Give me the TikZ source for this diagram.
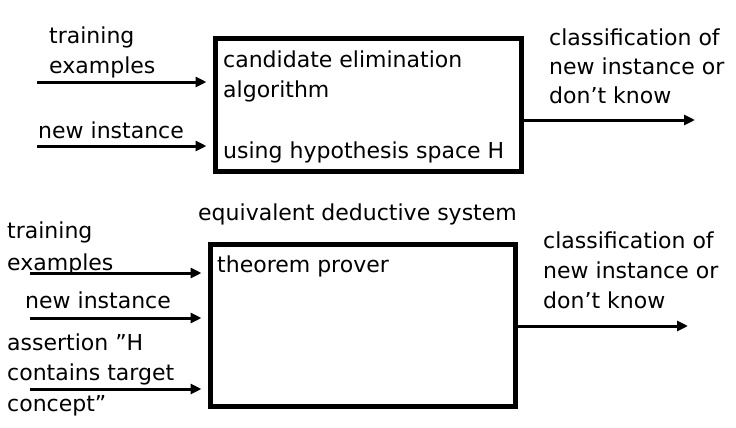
\documentclass[tikz,border=0pt]{standalone}
\usepackage{fontspec}
\setmainfont{DejaVu Sans}
\usetikzlibrary{positioning, arrows.meta}

\begin{document}
\begin{tikzpicture}[x=1pt, y=-1pt,
	box/.style={draw, line width=5pt, inner sep=0pt},
	lbl/.style={anchor=base west, inner sep=0pt, align=left, font=\fontsize{22}{#1}\selectfont},
	lbl/.default=30,
	arr/.style={line width=3pt, -{Triangle[length=11pt, width=10pt]}}]
	\useasboundingbox (0,0) rectangle (736,428);
	% candidate elimination
	\node[box, minimum width=306pt, minimum height=132pt] (cea) at (368,105) {};
	\node[lbl] (ceatxt) at (223,97) {candidate elimination\\algorithm};
	\node[lbl] (hyptxt) at (223,158) {using hypothesis space H};
	\node[lbl] (trA) at (49,74) {training\\examples};
	\node[lbl] (niA) at (38,138) {new instance};
	\node[lbl=29] (outA) at (549,103) {classification of\\new instance or\\don’t know};
	\coordinate (teA) at (37,82);
	\coordinate (inA) at (37,146);
	\coordinate (clA) at (695,120);
	\draw[arr, shorten >=6pt] (teA) -- (teA -| cea.west);
	\draw[arr, shorten >=6pt] (inA) -- (inA -| cea.west);
	\draw[arr] (clA -| cea.east) -- (clA);
	% equivalent deductive system
	\node[lbl] (eqtxt) at (198,220) {equivalent deductive system};
	\node[box, minimum width=305pt, minimum height=162pt] (tp) at (362.5,325) {};
	\node[lbl] (tptxt) at (217,272) {theorem prover};
	\node[lbl=32] (trB) at (7,270) {training\\examples};
	\node[lbl] (niB) at (25,308) {new instance};
	\node[lbl=30.5] (asB) at (7,411) {assertion ”H\\contains target\\concept”};
	\node[lbl=30] (outB) at (543,308) {classification of\\new instance or\\don’t know};
	\coordinate (teB) at (30,273);
	\coordinate (inB) at (30,318);
	\coordinate (acB) at (30,389);
	\coordinate (clB) at (688,326);
	\foreach \c in {teB, inB, acB}
		\draw[arr, shorten >=6pt] (\c) -- (\c -| tp.west);
	\draw[arr] (clB -| tp.east) -- (clB);
\end{tikzpicture}
\end{document}
